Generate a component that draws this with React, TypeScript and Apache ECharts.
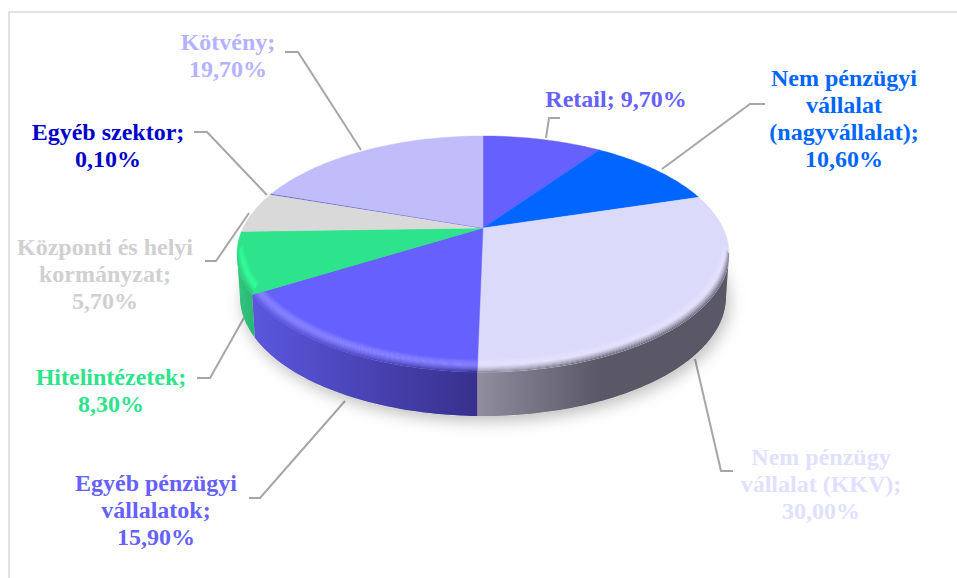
import React, { useEffect, useRef } from "react";
import * as echarts from "echarts";

const categories = [
  "Retail",
  "Nem pénzügyi\nvállalat\n(nagyvállalat)",
  "Nem pénzügy\nvállalat (KKV)",
  "Egyéb pénzügyi\nvállalatok",
  "Hitelintézetek",
  "Központi és helyi\nkormányzat",
  "Egyéb szektor",
  "Kötvény",
];
const values = [9.7, 10.6, 30.0, 15.9, 8.3, 5.7, 0.1, 19.7];
const topColors = ["#6660ff", "#0066ff", "#dcdafa", "#6660ff", "#2de38b", "#d9d9d9", "#3333cc", "#c0bdfa"];
const labelColors = ["#6660ff", "#0066ff", "#e0e0ff", "#6660ff", "#2de38b", "#d0d0d0", "#0000cc", "#b5b2ff"];
const rimLight = ["#8a86ff", "#3388ff", "#e4e2fc", "#8a86ff", "#33ff99", "#e4e4e4", "#5555dd", "#d0ceff"];
const sideLeft = ["#5a56dc", "#0058dc", "#8f8d9e", "#5a56dc", "#2fc47c", "#b8b8b8", "#2a2aa8", "#a5a2d8"];
const sideRight = ["#38308c", "#003c94", "#5a5866", "#38308c", "#2bb270", "#8a8a8a", "#1a1a70", "#66648a"];
const sideStops = [[478, 600], [478, 600], [478, 600], [258, 478], [240, 258], [240, 258], [240, 258], [240, 258]];
const labelAnchors = [[616, 99], [844, 118], [821, 484], [156, 510], [111, 390], [105, 274], [108, 145], [228, 55]];
const labelSeparators = [" ", "\n", "\n", "\n", "\n", "\n", "\n", "\n"];
const leaders = [
  [[560, 118], [549, 118], [546, 138]],
  [[765, 104], [750, 104], [662, 169]],
  [[733, 471], [721, 471], [695, 359]],
  [[249, 498], [260, 498], [345, 401]],
  [[197, 378], [210, 378], [245, 316]],
  [[205, 261], [216, 261], [249, 213]],
  [[194, 132], [207, 132], [267, 195]],
  [[285, 52], [298, 52], [361, 150]],
];

// Perspective disc: the apex of the pie sits above the ellipse's centre.
const CX = 483;
const CY = 228;
const A = 240;
const B = 112.3;
const K = 0.2203;
const DEPTH = 42;
const BEVEL_STEPS = 14;

const total = values.reduce((a, b) => a + b, 0);
const starts: number[] = [];
values.reduce((acc, v, i) => {
  starts[i] = acc;
  return acc + v;
}, 0);
const toAngle = (share: number) => (share / total) * Math.PI * 2;

const project = (t: number): [number, number] => {
  const d = 1 + K * Math.cos(t);
  return [CX + (A * Math.sin(t)) / d, CY - (B * Math.cos(t)) / d];
};
const bottom = (t: number): [number, number] => {
  const [x, y] = project(t);
  return [CX + (x - CX) * 0.988, y + DEPTH + 2 * Math.max(0, -Math.cos(t))];
};
const bevel = (t: number, u: number): [number, number] => {
  // u = 1 on the rim, u = 0 on the inner edge of the rounded rim
  const [x, y] = project(t);
  const front = Math.max(0, Math.min(1, (-Math.cos(t) + 0.25) / 0.6));
  return [x - (1 - u) * 8 * Math.sin(t) * front, y - (1 - u) * 13 * front];
};
const arc = (a: number, b: number, fn: (t: number) => [number, number]) => {
  const n = Math.max(2, Math.ceil(Math.abs(b - a) / 0.02));
  const pts: [number, number][] = [];
  for (let i = 0; i <= n; i++) pts.push(fn(a + ((b - a) * i) / n));
  return pts;
};

const hex = (c: string) => [1, 3, 5].map((i) => parseInt(c.slice(i, i + 2), 16));
const mix = (c1: string, c2: string, r: number) => {
  const p = hex(c1);
  const q = hex(c2);
  const m = p.map((v, i) => Math.round(v + (q[i] - v) * r));
  return "#" + m.map((v) => v.toString(16).padStart(2, "0")).join("");
};

const VISIBLE_FROM = Math.PI - Math.acos(K);
const VISIBLE_TO = Math.PI + Math.acos(K);

const renderSlice = (params: any) => {
  const i = params.dataIndex;
  const a = toAngle(starts[i]);
  const b = toAngle(starts[i] + values[i]);
  const children: any[] = [];
  if (i === 0) {
    const whole = arc(VISIBLE_FROM - 0.6, VISIBLE_TO + 0.6, bottom);
    children.push({
      type: "polygon",
      shape: { points: whole },
      style: {
        fill: "#d0d0d0",
        shadowBlur: 16,
        shadowColor: "rgba(0,0,0,0.26)",
        shadowOffsetX: 3,
        shadowOffsetY: 5,
      },
    });
  }
  const lo = Math.max(a, VISIBLE_FROM);
  const hi = Math.min(b, VISIBLE_TO);
  const gradient = (c1: string, c2: string) =>
    new echarts.graphic.LinearGradient(sideStops[i][0], 0, sideStops[i][1], 0, [
      { offset: 0, color: c1 },
      { offset: 1, color: c2 },
    ], true);
  if (hi > lo) {
    children.push({
      type: "polygon",
      shape: { points: [...arc(lo, hi, project), ...arc(hi, lo, bottom)] },
      style: { fill: gradient(sideLeft[i], sideRight[i]) },
    });
  }
  children.push({
    type: "polygon",
    shape: { points: [[CX, CY], ...arc(a, b, project)] },
    style: { fill: topColors[i], stroke: topColors[i], lineWidth: 0.4 },
  });
  if (hi > lo) {
    for (let s = 0; s < BEVEL_STEPS; s++) {
      const u0 = s / BEVEL_STEPS;
      const u1 = (s + 1) / BEVEL_STEPS;
      const um = (u0 + u1) / 2;
      const tone = (side: string) =>
        um < 0.45
          ? mix(topColors[i], rimLight[i], Math.sin(((um / 0.45) * Math.PI) / 2))
          : mix(rimLight[i], side, Math.pow((um - 0.45) / 0.55, 1.3));
      children.push({
        type: "polygon",
        shape: {
          points: [...arc(lo, hi, (t) => bevel(t, u0)), ...arc(hi, lo, (t) => bevel(t, u1))],
        },
        style: { fill: gradient(tone(sideLeft[i]), tone(sideRight[i])) },
      });
    }
  }
  return { type: "group", children };
};

const formatLabel = (i: number) =>
  `${categories[i]};${labelSeparators[i]}${values[i].toFixed(2).replace(".", ",")}%`;

const graphics: any[] = [
  {
    type: "rect",
    shape: { x: 9, y: 12, width: 1100, height: 800 },
    style: { fill: "transparent", stroke: "#d9d9d9", lineWidth: 1.5 },
    silent: true,
    z: -1,
  },
  ...leaders.map((pts) => ({
    type: "polyline",
    shape: { points: pts },
    style: { stroke: "#a6a6a6", lineWidth: 2, fill: "none" },
    silent: true,
  })),
  ...categories.map((_, i) => ({
    type: "text",
    x: labelAnchors[i][0],
    y: labelAnchors[i][1],
    silent: true,
    style: {
      text: formatLabel(i),
      fill: labelColors[i],
      font: 'bold 24px "Liberation Serif"',
      lineHeight: 27,
      align: "center",
      verticalAlign: "middle",
    },
  })),
];

export default function App() {
  const ref = useRef<HTMLDivElement>(null);
  useEffect(() => {
    const chart = echarts.init(ref.current!, null, { renderer: "svg" });
    chart.setOption({
      animation: false,
      backgroundColor: "#ffffff",
      graphic: graphics,
      series: [
        {
          type: "custom",
          coordinateSystem: "none",
          silent: true,
          renderItem: renderSlice,
          data: categories.map((name, i) => ({ name, value: values[i] })),
        },
      ],
    });
    return () => chart.dispose();
  }, []);
  return <div ref={ref} style={{ position: "fixed", left: 0, top: 0, width: 957, height: 578 }} />;
}
